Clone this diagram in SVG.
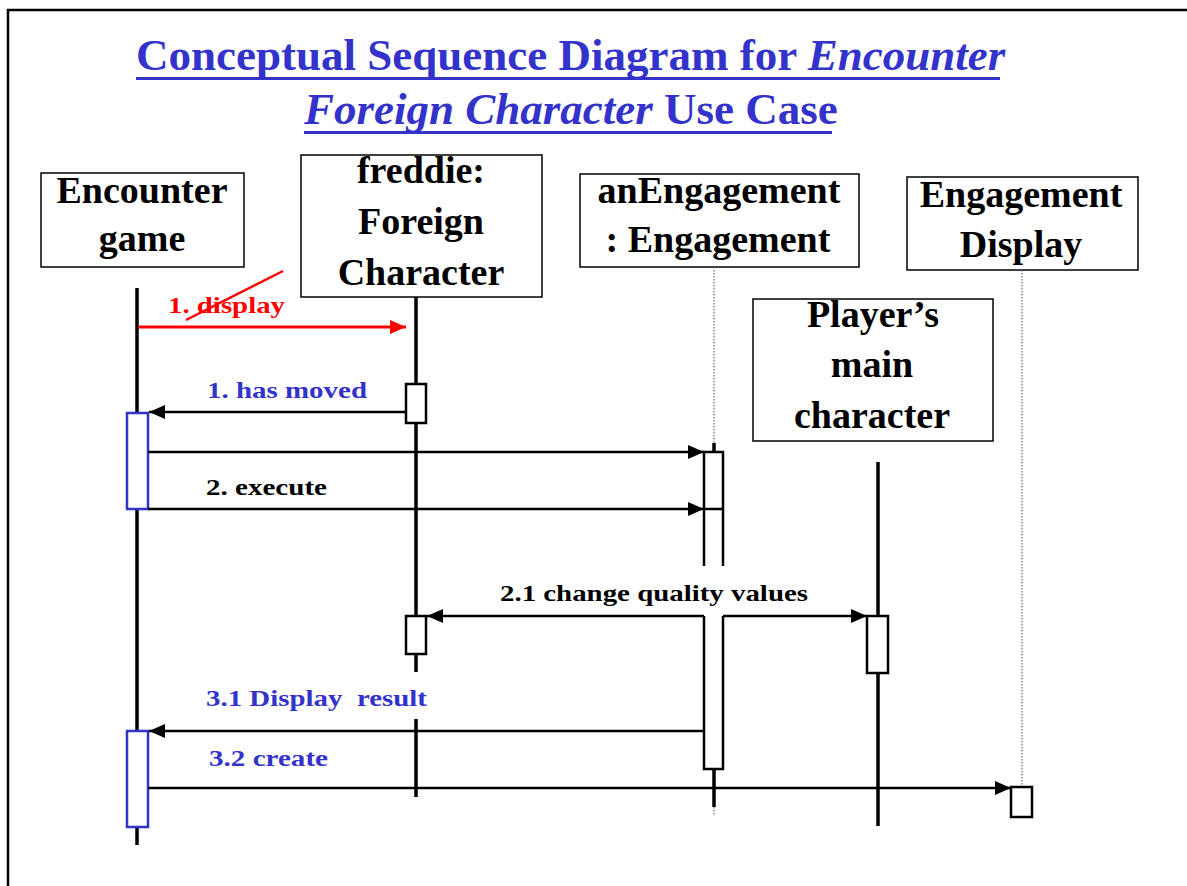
<svg xmlns="http://www.w3.org/2000/svg" width="1187" height="886" viewBox="0 0 1187 886">
<defs>
<marker id="ah" markerUnits="userSpaceOnUse" markerWidth="16" markerHeight="14" refX="16" refY="7" orient="auto">
<path d="M0,0 L16,7 L0,14 Z" fill="#000"/>
</marker>
<marker id="ahr" markerUnits="userSpaceOnUse" markerWidth="16" markerHeight="14" refX="16" refY="7" orient="auto">
<path d="M0,0 L16,7 L0,14 Z" fill="#ff0000"/>
</marker>
<style>
.box{fill:#fff;stroke:#000;stroke-width:1.5}
.nt{font-family:"Liberation Serif","Times New Roman",serif;font-weight:bold;font-size:38px;fill:#000;text-anchor:middle}
.life{stroke:#000;stroke-width:3.5;fill:none}
.dot{stroke:#555;stroke-width:1;stroke-dasharray:1.5,1.5;fill:none}
.act{fill:#fff;stroke:#000;stroke-width:2.5}
.actb{fill:#fff;stroke:#3333cc;stroke-width:2.5}
.msg{stroke:#000;stroke-width:2.5;fill:none}
.lbl{font-family:"Liberation Serif","Times New Roman",serif;font-weight:bold;font-size:24px}
.blue{fill:#3333cc}
.title{font-family:"Liberation Serif","Times New Roman",serif;font-weight:bold;font-size:45px;fill:#3333cc}
</style>
</defs>
<rect width="1187" height="886" fill="#fff"/>
<path d="M8,886 V10 H1187" fill="none" stroke="#000" stroke-width="2.5"/>

<g id="title">
<text class="title" x="136" y="70">Conceptual Sequence Diagram for <tspan font-style="italic">Encounter</tspan></text>
<text class="title" x="304" y="124"><tspan font-style="italic">Foreign Character</tspan> Use Case</text>
<rect x="136" y="77" width="864" height="3" fill="#3333cc"/>
<rect x="304" y="131" width="528" height="3" fill="#3333cc"/>
</g>

<g id="encounter-game">
<rect class="box" x="41" y="173" width="203" height="94"/>
<text class="nt" x="142" y="203">Encounter</text>
<text class="nt" x="142" y="251">game</text>
<line class="life" x1="137" y1="288" x2="137" y2="845"/>
<rect class="actb" x="127" y="413" width="21" height="96"/>
<rect class="actb" x="127" y="731" width="21" height="96"/>
</g>

<g id="freddie">
<rect class="box" x="301" y="155" width="241" height="142"/>
<text class="nt" x="421" y="183">freddie:</text>
<text class="nt" x="421" y="234">Foreign</text>
<text class="nt" x="421" y="285">Character</text>
<line class="life" x1="416" y1="297" x2="416" y2="616"/>
<line class="life" x1="416" y1="654" x2="416" y2="672"/>
<line class="life" x1="416" y1="719" x2="416" y2="797"/>
<rect class="act" x="406" y="384" width="20" height="39"/>
<rect class="act" x="406" y="616" width="20" height="38"/>
</g>

<g id="anEngagement">
<rect class="box" x="580" y="174" width="279" height="93"/>
<text class="nt" x="719" y="203">anEngagement</text>
<text class="nt" x="718" y="252">: Engagement</text>
<line class="dot" x1="714" y1="267" x2="714" y2="443"/>
<line class="life" x1="714" y1="443" x2="714" y2="452"/>
<path class="msg" d="M704,566 V452 H723 V566"/>
<line class="msg" x1="704" y1="509" x2="723" y2="509"/>
<path class="msg" d="M704,616 V769 H723 V616"/>
<line class="life" x1="714" y1="769" x2="714" y2="807"/>
<line class="dot" x1="714" y1="807" x2="714" y2="816"/>
</g>

<g id="players-main-character">
<rect class="box" x="753" y="299" width="240" height="142"/>
<text class="nt" x="873" y="327">Player’s</text>
<text class="nt" x="872" y="377">main</text>
<text class="nt" x="872" y="428">character</text>
<line class="life" x1="878" y1="462" x2="878" y2="616"/>
<line class="life" x1="878" y1="673" x2="878" y2="826"/>
<rect class="act" x="867" y="616" width="21" height="57"/>
</g>

<g id="engagement-display">
<rect class="box" x="907" y="177" width="231" height="93"/>
<text class="nt" x="1021" y="207">Engagement</text>
<text class="nt" x="1021" y="257">Display</text>
<line class="dot" x1="1022" y1="270" x2="1022" y2="787"/>
<rect class="act" x="1011" y="787" width="21" height="30"/>
</g>

<g id="connectors">
<line x1="138" y1="327" x2="406" y2="327" stroke="#ff0000" stroke-width="3" marker-end="url(#ahr)"/>
<line x1="406" y1="412" x2="149" y2="412" class="msg" marker-end="url(#ah)"/>
<line x1="148" y1="452" x2="704" y2="452" class="msg" marker-end="url(#ah)"/>
<line x1="148" y1="509" x2="704" y2="509" class="msg" marker-end="url(#ah)"/>
<line x1="704" y1="616" x2="427" y2="616" class="msg" marker-end="url(#ah)"/>
<line x1="723" y1="616" x2="867" y2="616" class="msg" marker-end="url(#ah)"/>
<line x1="704" y1="731" x2="149" y2="731" class="msg" marker-end="url(#ah)"/>
<line x1="148" y1="788" x2="1011" y2="788" class="msg" marker-end="url(#ah)"/>
</g>

<g id="labels">
<text class="lbl" x="168" y="313" fill="#ff0000" textLength="117" lengthAdjust="spacingAndGlyphs">1. display</text>
<line x1="186" y1="320" x2="283" y2="271" stroke="#ff0000" stroke-width="2.5"/>
<text class="lbl blue" x="207" y="398" textLength="160" lengthAdjust="spacingAndGlyphs">1. has moved</text>
<text class="lbl" x="206" y="495" fill="#000" textLength="121" lengthAdjust="spacingAndGlyphs">2. execute</text>
<text class="lbl" x="500" y="601" fill="#000" textLength="308" lengthAdjust="spacingAndGlyphs">2.1 change quality values</text>
<text class="lbl blue" x="206" y="706" xml:space="preserve" textLength="221" lengthAdjust="spacingAndGlyphs">3.1 Display  result</text>
<text class="lbl blue" x="209" y="766" textLength="119" lengthAdjust="spacingAndGlyphs">3.2 create</text>
</g>
</svg>
